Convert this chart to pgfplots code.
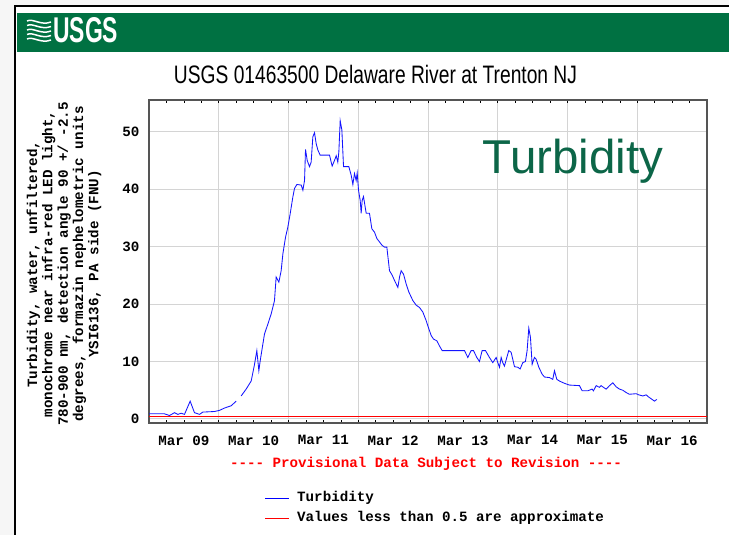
\documentclass[border=0pt]{standalone}
\usepackage{pgfplots}
\pgfplotsset{compat=1.18}
\usepackage{fontspec}
\setmainfont{Liberation Sans}
\setmonofont{Liberation Mono}
\definecolor{usgsgreen}{RGB}{0,113,66}
\definecolor{turbgreen}{RGB}{12,102,72}
\definecolor{gridgray}{RGB}{212,212,212}
\definecolor{axgray}{RGB}{85,85,85}
\definecolor{lineblue}{RGB}{20,20,255}
\newcommand{\mono}{\ttfamily\bfseries\fontsize{14.2}{15.3}\selectfont}
\begin{document}
\begin{tikzpicture}
\begin{scope}[x=1pt,y=1pt]
\useasboundingbox (0,0) rectangle (729,-535);
\fill[gray!7] (0,0) rectangle (729,-535);
\fill[white] (15,-6) rectangle (729,-535);
\draw[black, line width=1.2pt] (15,-535) -- (15,-6) -- (729,-6);
\fill[usgsgreen] (17,-12.7) rectangle (729,-51.7);
\node[anchor=base west, inner sep=0, white] at (53,-42.7) {\resizebox{65pt}{25pt}{\bfseries USGS}};
\foreach \yy in {-21,-25.5,-30,-34.5,-39} {
  \draw[white, line width=1.5pt] (27,\yy) .. controls (33,\yy+3) and (41,\yy-5) .. (51,\yy-1);
}
\node[anchor=base, inner sep=0] at (375.5,-83.3) {\resizebox{403pt}{18.3pt}{USGS 01463500 Delaware River at Trenton NJ}};
\end{scope}
\begin{axis}[
  at={(149pt,-423pt)}, anchor=south west,
  scale only axis, width=558pt, height=323pt,
  xmin=0, xmax=8, ymin=-0.7, ymax=55.5,
  xtick={0,...,8}, xticklabels={},
  minor x tick num=3,
  ytick={0,10,...,50},
  grid=major,
  major grid style={gridgray, line width=1pt},
  axis line style={axgray, line width=1.2pt},
  tick align=inside,
  xtick pos=both,
  x tick style={black, line width=0.6pt},
  major tick length=3.5pt, minor tick length=3pt,
  ytick style={draw=none},
  extra x ticks={0.5,1.5,...,7.5},
  extra x tick labels={Mar 09,Mar 10,Mar 11,Mar 12,Mar 13,Mar 14,Mar 15,Mar 16},
  extra x tick style={grid=none, major tick length=0pt, xticklabel style={yshift=-9pt}},
  ticklabel style={font=\mono},
  yticklabel style={xshift=-6pt},
  /pgf/number format/assume math mode=true,
  clip=true,
]
\addplot[red, line width=1.2pt] coordinates {(0,0.5) (8,0.5)};
\addplot[lineblue, line width=0.85pt, unbounded coords=jump] coordinates {
(0.000,0.9) (0.222,0.9) (0.294,0.6) (0.366,1.1) (0.413,0.8) (0.461,1.0) (0.509,0.8)
(0.590,3.1) (0.652,1.1) (0.724,0.8) (0.772,1.2) (0.939,1.3) (1.011,1.5) (1.082,1.9)
(1.178,2.3) (1.250,3.1) (1.285,nan)
(1.321,4.0) (1.393,5.2) (1.465,6.6) (1.513,9.5) (1.546,11.9) (1.575,8.4) (1.594,10.1)
(1.632,13.0) (1.656,14.8) (1.704,16.5) (1.752,18.3) (1.799,20.6) (1.823,24.7) (1.862,23.8)
(1.895,25.8) (1.919,28.7) (1.957,31.6) (1.991,33.4) (2.024,35.7) (2.062,38.6) (2.086,40.1)
(2.120,40.8) (2.182,40.7) (2.206,39.8) (2.230,41.5) (2.244,46.9) (2.268,45.0) (2.301,43.9)
(2.325,44.7) (2.349,49.1) (2.373,49.8) (2.397,47.9) (2.421,46.8) (2.454,45.9) (2.588,45.9)
(2.626,44.0) (2.660,45.0) (2.684,45.8) (2.707,44.7) (2.722,46.5) (2.741,51.9) (2.765,50.3)
(2.789,43.9) (2.865,43.9) (2.899,42.4) (2.923,40.8) (2.946,42.7) (2.970,41.5) (2.985,42.8)
(3.004,39.8) (3.028,38.0) (3.042,35.8) (3.056,38.0) (3.075,38.7) (3.095,37.2) (3.114,35.8)
(3.161,35.8) (3.195,33.1) (3.233,32.5) (3.267,31.4) (3.305,30.8) (3.343,30.2) (3.377,29.9)
(3.410,29.9) (3.448,25.8) (3.487,25.0) (3.520,24.1) (3.568,22.9) (3.592,24.7) (3.615,25.8)
(3.649,25.2) (3.687,23.5) (3.725,22.1) (3.783,20.6) (3.831,19.8) (3.878,19.4) (3.926,18.6)
(3.974,17.1) (4.012,15.7) (4.046,14.5) (4.079,13.9) (4.127,13.6) (4.165,12.7) (4.203,11.9)
(4.523,11.9) (4.571,10.7) (4.618,11.9) (4.652,11.9) (4.700,10.7) (4.738,10.0) (4.776,11.9)
(4.824,11.9) (4.881,10.7) (4.929,9.8) (4.977,10.7) (5.001,9.8) (5.025,9.0) (5.049,10.7)
(5.072,9.8) (5.096,9.2) (5.130,10.7) (5.158,11.9) (5.192,11.6) (5.240,9.1) (5.288,9.0)
(5.321,8.7) (5.359,9.8) (5.397,10.0) (5.421,11.9) (5.445,15.8) (5.469,14.2) (5.493,9.5)
(5.526,10.7) (5.550,10.4) (5.589,9.0) (5.636,7.8) (5.670,7.3) (5.742,7.2) (5.789,6.9)
(5.813,8.4) (5.847,6.9) (5.885,6.6) (5.957,6.2) (6.028,5.9) (6.172,5.8) (6.210,4.9)
(6.291,4.9) (6.353,5.2) (6.372,4.9) (6.411,5.8) (6.458,5.5) (6.482,5.8) (6.516,5.5)
(6.554,5.2) (6.602,5.8) (6.650,6.3) (6.697,5.6) (6.745,5.2) (6.793,5.0) (6.841,4.6)
(6.888,4.3) (6.984,4.4) (7.022,4.2) (7.080,4.0) (7.127,4.2) (7.166,3.8) (7.213,3.4)
(7.247,3.1) (7.280,3.4)
};
\end{axis}
\begin{scope}[x=1pt,y=1pt]
\node[anchor=base, inner sep=0, text=turbgreen, font=\fontsize{47.5}{47.5}\selectfont] at (573,-173) {Turbidity};
\node[rotate=90, align=center, inner sep=0, font=\mono] at (64,-264) {Turbidity, water, unfiltered,\\monochrome near infra-red LED light,\\780-900 nm, detection angle 90 +/ -2.5\\degrees, formazin nephelometric units\\YSI6136, PA side (FNU)};
\node[inner sep=0, text=red, font=\mono] at (426,-464.3) {---- Provisional Data Subject to Revision ----};
\draw[blue, line width=1pt] (265,-498.3) -- (289,-498.3);
\node[anchor=west, inner sep=0, font=\mono] at (297,-498.3) {Turbidity};
\draw[red, line width=1pt] (265,-518.3) -- (289,-518.3);
\node[anchor=west, inner sep=0, font=\mono] at (297,-518.3) {Values less than 0.5 are approximate};
\end{scope}
\end{tikzpicture}
\end{document}
